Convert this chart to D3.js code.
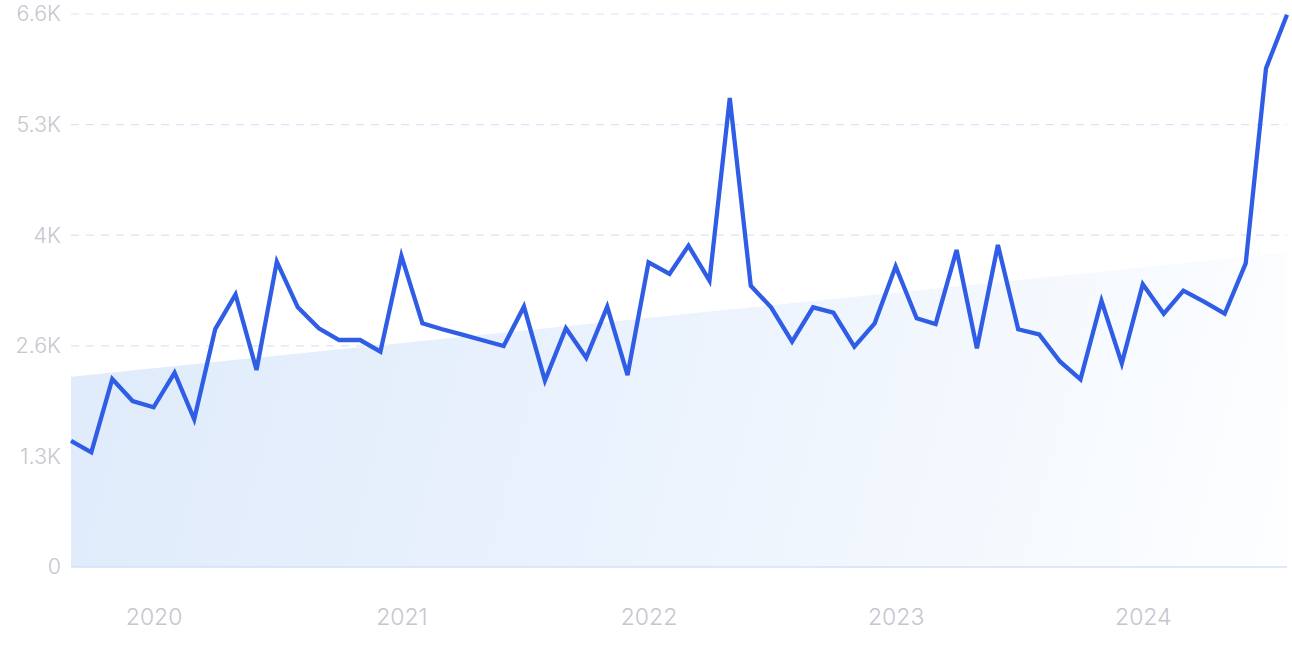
<!DOCTYPE html>
<html><head><meta charset="utf-8">
<script src="https://cdn.jsdelivr.net/npm/d3@7"></script>
<style>
html,body{margin:0;padding:0;background:#fff;}
svg{display:block;}
</style></head>
<body>
<svg id="chart" width="1292" height="646"></svg>
<script>
// Monthly values, Sep 2019 .. Aug 2024
const startMonth = "2019-09";
const values = [
 1504,1369,2244,1981,1906,2319,1763,2840,3254,2351,3644,3099,
 2849,2709,2709,2570,3712,2908,2840,2773,2706,2638,3107,2224,
 2849,2498,3107,2291,3636,3497,3835,3417,5597,3357,3099,2689,
 3099,3035,2629,2908,3588,2968,2900,3783,2610,3843,2837,2777,
 2450,2240,3178,2431,3374,3023,3298,3163,3023,3624,5951,6590
];
const trendStart = 2271;
const trendEnd = 3751;
const yTicks = [0,1320,2640,3960,5280,6600];
const yTickLabels = ["0","1.3K","2.6K","4K","5.3K","6.6K"];
const xTickYears = [2020,2021,2022,2023,2024];

const svg = d3.select("#chart");
const margin = {left:71, right:5, top:14, bottom:79};
const W = 1292, H = 646;
const parse = d3.timeParse("%Y-%m");
const t0 = parse(startMonth);
const dates = values.map((v,i)=>d3.timeMonth.offset(t0,i));
const data = values.map((v,i)=>({d:dates[i], v}));

const x = d3.scaleTime().domain([dates[0], dates[dates.length-1]]).range([margin.left, W-margin.right]);
const y = d3.scaleLinear().domain([0,6600]).range([H-margin.bottom, margin.top]);

const defs = svg.append("defs");
const grad = defs.append("linearGradient").attr("id","trendGrad")
  .attr("gradientUnits","userSpaceOnUse")
  .attr("x1",x.range()[0]).attr("y1",y(trendEnd))
  .attr("x2",x.range()[1]).attr("y2",y(0));
grad.append("stop").attr("offset","0%").attr("stop-color","#dfebfb");
grad.append("stop").attr("offset","45%").attr("stop-color","#eaf2fd");
grad.append("stop").attr("offset","100%").attr("stop-color","#fdfeff");

// grid
svg.append("g").selectAll("line").data(yTicks.slice(1)).join("line")
  .attr("x1",margin.left).attr("x2",W-margin.right)
  .attr("y1",d=>y(d)).attr("y2",d=>y(d))
  .attr("stroke","#d9e4fb").attr("stroke-width",1.2).attr("stroke-dasharray","8,7");

// trend area
const trend = [{d:dates[0], v:trendStart},{d:dates[dates.length-1], v:trendEnd}];
svg.append("path").datum(trend)
  .attr("d", d3.area().x(d=>x(d.d)).y0(y(0)).y1(d=>y(d.v)))
  .attr("fill","url(#trendGrad)");

// baseline
svg.append("line").attr("x1",margin.left).attr("x2",W-margin.right)
  .attr("y1",y(0)).attr("y2",y(0)).attr("stroke","#d3e1fa").attr("stroke-width",1.5);

// y labels
const yAxis = d3.axisLeft(y).tickValues(yTicks).tickFormat((d,i)=>yTickLabels[i]).tickSize(0).tickPadding(10);
const gy = svg.append("g").attr("transform",`translate(${margin.left},0)`).call(yAxis);
gy.select(".domain").remove();
gy.selectAll("text").attr("fill","#c6c6ce").style("font-family","Inter, 'Noto Sans', sans-serif").style("font-weight","300").style("font-size","21.5px");

// x labels
const xAxis = d3.axisBottom(x).tickValues(xTickYears.map(yr=>new Date(yr,0,1))).tickFormat(d3.timeFormat("%Y")).tickSize(0).tickPadding(42);
const gx = svg.append("g").attr("transform",`translate(0,${y(0)})`).call(xAxis);
gx.select(".domain").remove();
gx.selectAll("text").attr("fill","#c6c6ce").style("font-family","Inter, 'Noto Sans', sans-serif").style("font-weight","300").style("font-size","23px");

// line
svg.append("path").datum(data)
  .attr("d", d3.line().x(d=>x(d.d)).y(d=>y(d.v)))
  .attr("fill","none").attr("stroke","#2f5de5").attr("stroke-width",4.3).attr("stroke-linejoin","miter").attr("stroke-miterlimit",4);
</script>
</body></html>
